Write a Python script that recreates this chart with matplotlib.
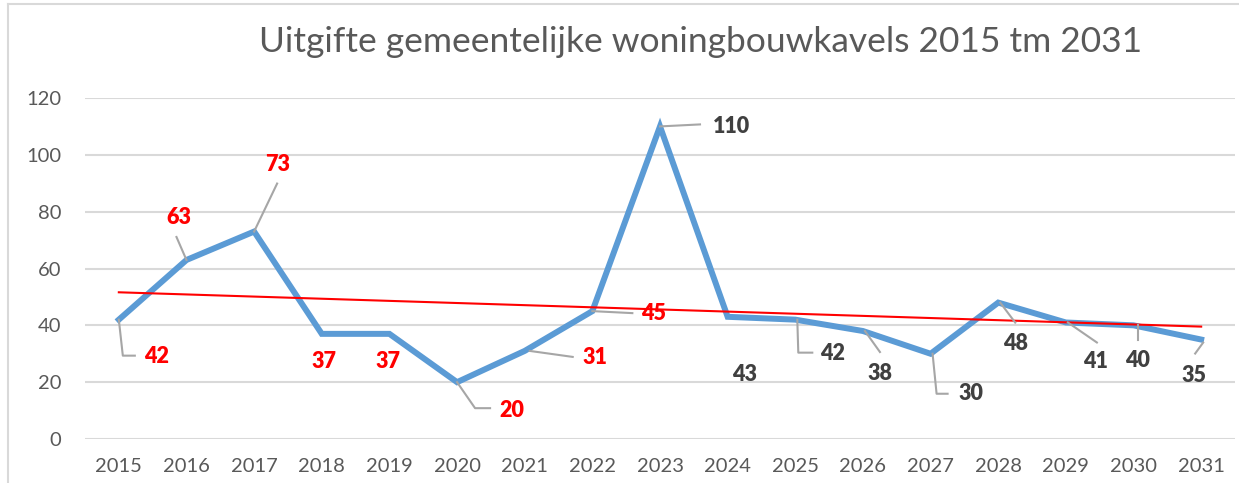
import numpy as np
import matplotlib
matplotlib.use("Agg")
import matplotlib.pyplot as plt
from matplotlib.transforms import IdentityTransform
from matplotlib.lines import Line2D

plt.rcParams['font.family'] = ['Lato', 'DejaVu Sans']

years = ['2015', '2016', '2017', '2018', '2019', '2020', '2021', '2022', '2023',
         '2024', '2025', '2026', '2027', '2028', '2029', '2030', '2031']
values = [42, 63, 73, 37, 37, 20, 31, 45, 110, 43, 42, 38, 30, 48, 41, 40, 35]
y_ticks = [0, 20, 40, 60, 80, 100, 120]
title = 'Uitgifte gemeentelijke woningbouwkavels 2015 tm 2031'

# label offsets in pixels from the point (x right, y down as in the picture)
text_offsets = [(38, 37), (-8, -42), (24, -67), (2, 28), (-1, 28), (55, 28),
                (70, 7), (61, 2), (71, 0), (17, 58), (37, 34), (17, 42),
                (40, 40), (17, 41), (30, 39), (4, 35), (-7, 36)]
leaders = [[(0, 0), (4, 36), (16, 36)], [(0, 0), (-10, -23)], [(0, 0), (23, -48)],
           None, None, [(0, 0), (18, 26), (33, 26)], [(5, 0), (48, 6)],
           [(0, 0), (40, 2)], [(0, 0), (40, -2)], None,
           [(2, 0), (3, 33), (17, 33)], [(2, 0), (17, 21)],
           [(2, 0), (6, 40), (17, 40)], [(2, 0), (17, 20)], [(2, 0), (31, 20)],
           [(4, 0), (4, 15)], [(2, 3), (-6, 14)]]
label_colors = ['#FF0000'] * 8 + ['#404040'] * 9

fig = plt.figure(figsize=(12.39, 4.83), dpi=100)
ax = fig.add_axes([85 / 1239, 1 - 439 / 483, 1150 / 1239, 341 / 483])

x = np.arange(len(years))
ax.plot(x, values, color='#5B9BD5', linewidth=4.3, solid_joinstyle='miter', zorder=3)

slope, icpt = np.polyfit(x, values, 1)
ax.plot([x[0], x[-1]], [icpt, icpt + slope * x[-1]], color='#FF0000', linewidth=1.5, zorder=4)

ax.set_xlim(-0.5, len(years) - 0.5)
ax.set_ylim(0, 120)
ax.set_xticks(x)
ax.set_xticklabels(years)
ax.set_yticks(y_ticks)
for s in ax.spines.values():
    s.set_visible(False)
ax.tick_params(length=0, labelsize=14.5, labelcolor='#595959')
ax.tick_params(axis='y', pad=17)
ax.tick_params(axis='x', pad=14)
ax.yaxis.grid(True, color='#D9D9D9', linewidth=1.5)
ax.set_axisbelow(True)

fig.text(0.5655, 1 - 42 / 483, title, ha='center', va='center', fontsize=25.5,
         color='#595959', fontweight='normal')

# chart border (left and top edges visible)
fig.add_artist(Line2D([8 / 1239, 8 / 1239], [0, 1 - 4 / 483], color='#D9D9D9',
                      linewidth=1.5, transform=fig.transFigure))
fig.add_artist(Line2D([8 / 1239, 1], [1 - 4 / 483, 1 - 4 / 483], color='#D9D9D9',
                      linewidth=1.5, transform=fig.transFigure))

for i, v in enumerate(values):
    px, py = ax.transData.transform((x[i], v))
    if leaders[i] is not None:
        xs = [px + dx for dx, dy in leaders[i]]
        ys = [py - dy for dx, dy in leaders[i]]
        ax.add_line(Line2D(xs, ys, color='#A6A6A6', linewidth=1.5,
                           transform=IdentityTransform(), clip_on=False, zorder=5))
    tx, ty = text_offsets[i]
    ax.text(px + tx, py - ty, str(v), transform=IdentityTransform(), ha='center',
            va='center', fontsize=15.5, fontweight='heavy', color=label_colors[i], zorder=6)

fig.savefig('out.png', dpi=100)
